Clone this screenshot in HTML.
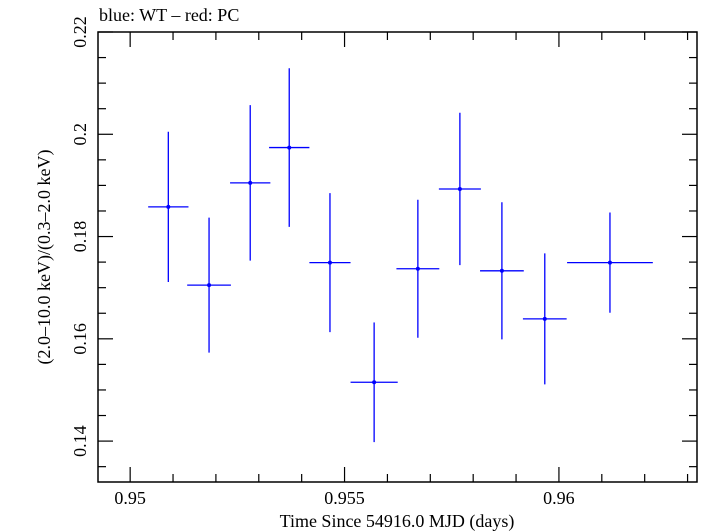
<!DOCTYPE html>
<html><head><meta charset="utf-8"><style>
body{margin:0;background:#fff}
svg{display:block;font-family:"Liberation Serif",serif}
</style></head><body>
<svg id="chart" width="705" height="532">
<text x="99" y="21" font-size="18">blue: WT – red: PC</text>
<rect x="98" y="32" width="599" height="450" fill="none" stroke="#000" stroke-width="1.5"/>
<g id="ticks"></g>
<g id="marks"></g>
<text x="397" y="527" font-size="18" text-anchor="middle">Time Since 54916.0 MJD (days)</text>
<text transform="translate(50,257) rotate(-90)" font-size="18" text-anchor="middle">(2.0–10.0 keV)/(0.3–2.0 keV)</text>
</svg>
<script>
const times=[0.95089,0.95184,0.95280,0.95371,0.95466,0.95569,0.95671,0.95769,0.95867,0.95967,0.96119];
const halfWidths=[0.00047,0.00051,0.00047,0.00047,0.00048,0.00055,0.00050,0.00049,0.00051,0.00051,0.00100];
const ratios=[0.1858,0.1705,0.1905,0.1974,0.1749,0.1515,0.1737,0.1893,0.1733,0.1639,0.1749];
const errors=[0.0147,0.0132,0.0152,0.0155,0.0136,0.0117,0.0135,0.0149,0.0134,0.0128,0.0098];
const xTicks=[0.95,0.955,0.96];
const xTickLabels=["0.95","0.955","0.96"];
const yTicks=[0.14,0.16,0.18,0.2,0.22];
const yTickLabels=["0.14","0.16","0.18","0.2","0.22"];
const NS="http://www.w3.org/2000/svg";
const L=98,R=697,T=32,B=482;
const x0=0.94925,x1=0.96322,y0=0.132,y1=0.22;
function sx(v){return L+(v-x0)/(x1-x0)*(R-L);}
function sy(v){return B-(v-y0)/(y1-y0)*(B-T);}
function mk(tag,attrs,parent){const e=document.createElementNS(NS,tag);for(const k in attrs)e.setAttribute(k,attrs[k]);parent.appendChild(e);return e;}
const tg=document.getElementById('ticks'),mg=document.getElementById('marks');
for(let v=0.950;v<=x1;v+=0.001){const px=sx(v);const major=Math.abs(Math.round(v*200)-v*200)<1e-6;const len=major?15:8;
const a=mk('line',{x1:px,x2:px,y1:B,y2:B-len,stroke:'#000','stroke-width':1.2},tg);


const b=mk('line',{x1:px,x2:px,y1:T,y2:T+len,stroke:'#000','stroke-width':1.2},tg);

}
xTicks.forEach((v,i)=>{const t=mk('text',{x:sx(v),y:504,'font-size':18,'text-anchor':'middle'},tg);t.textContent=xTickLabels[i];

});
for(let v=0.135;v<=0.2201;v+=0.005){const py=sy(v);const major=Math.abs(Math.round(v*50)-v*50)<1e-6;const len=major?15:8;
const a=mk('line',{x1:L,x2:L+len,y1:py,y2:py,stroke:'#000','stroke-width':1.2},tg);


const b=mk('line',{x1:R,x2:R-len,y1:py,y2:py,stroke:'#000','stroke-width':1.2},tg);

}
yTicks.forEach((v,i)=>{const t=mk('text',{transform:`translate(86,${sy(v)}) rotate(-90)`,'font-size':18,'text-anchor':'middle'},tg);t.textContent=yTickLabels[i];

});
times.forEach((t,i)=>{const g=mk('g',{},mg);


mk('line',{x1:sx(t-halfWidths[i]),x2:sx(t+halfWidths[i]),y1:sy(ratios[i]),y2:sy(ratios[i]),stroke:'#0000ff','stroke-width':1.3},g);
mk('line',{x1:sx(t),x2:sx(t),y1:sy(ratios[i]+errors[i]),y2:sy(ratios[i]-errors[i]),stroke:'#0000ff','stroke-width':1.3},g);
mk('circle',{cx:sx(t),cy:sy(ratios[i]),r:2,fill:'#0000ff'},g);});
</script>
</body></html>
